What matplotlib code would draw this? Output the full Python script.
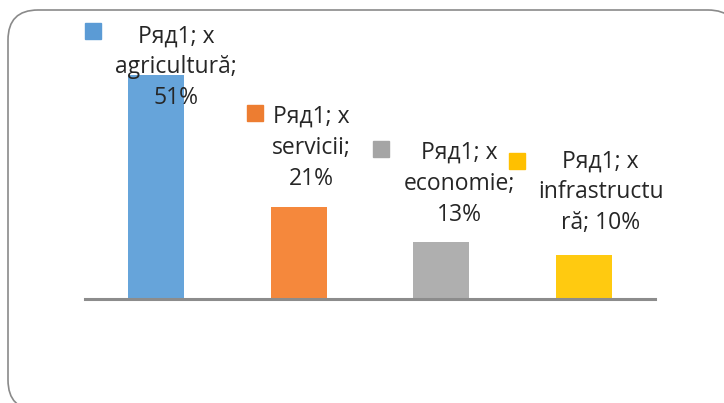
import matplotlib.pyplot as plt
from matplotlib.patches import FancyBboxPatch

# ==== Data ====
categories = ["agricultură", "servicii", "economie", "infrastructură"]
values = [51, 21, 13, 10]
label_texts = ["Ряд1; x\nagricultură;\n51%",
               "Ряд1; x\nservicii;\n21%",
               "Ряд1; x\neconomie;\n13%",
               "Ряд1; x\ninfrastructu\nră; 10%"]
bar_colors = ["#66A4DA", "#F5883C", "#AFAFAF", "#FFCA10"]
key_colors = ["#5B9BD5", "#ED7D31", "#A5A5A5", "#FFC000"]

# label layout (pixel offsets from bar top)
text_offsets = [(20, 8), (13, 59), (18, 58), (17, 63)]
key_offsets = [(-63, 44), (-44, 94), (-60, 93), (-67, 94)]

W, H = 724, 403
fig = plt.figure(figsize=(W / 100, H / 100), dpi=100)

# ---- rounded frame ----
bg = fig.add_axes([0, 0, 1, 1])
bg.set_xlim(0, W)
bg.set_ylim(H, 0)
bg.axis("off")
frame = FancyBboxPatch((8, 10), 730, 400, boxstyle="round,pad=0,rounding_size=30",
                       facecolor="white", edgecolor="#8a8a8a", linewidth=1.2)
bg.add_patch(frame)

# ---- bars ----
x0, x1 = 85, 655
base = 299
top = 35
ax = fig.add_axes([x0 / W, (H - base) / H, (x1 - x0) / W, (base - top) / H])
ax.patch.set_alpha(0)
ymax = (base - top) / (224 / 51)
xs = range(len(values))
ax.bar(xs, values, width=0.395, color=bar_colors, zorder=2)
ax.set_xlim(-0.5, len(values) - 0.5)
ax.set_ylim(0, ymax)
for s in ["top", "right", "left"]:
    ax.spines[s].set_visible(False)
ax.spines["bottom"].set_color("#8c8c8c")
ax.spines["bottom"].set_linewidth(2.2)
ax.set_xticks([])
ax.set_yticks([])

# ---- data labels with legend keys ----
for i, v in enumerate(values):
    ax.annotate(label_texts[i], xy=(i, v), xytext=text_offsets[i], textcoords="offset pixels",
                ha="center", va="center", multialignment="center", fontsize=16.5,
                family="Open Sans", color="#262626", linespacing=1.38, annotation_clip=False)
    px, py = ax.transData.transform((i, v))
    kx, ky = key_offsets[i]
    bg.plot(px + kx, H - (py + ky), marker="s", markersize=11, color=key_colors[i],
            linestyle="none")

fig.savefig("out.png", dpi=100)
